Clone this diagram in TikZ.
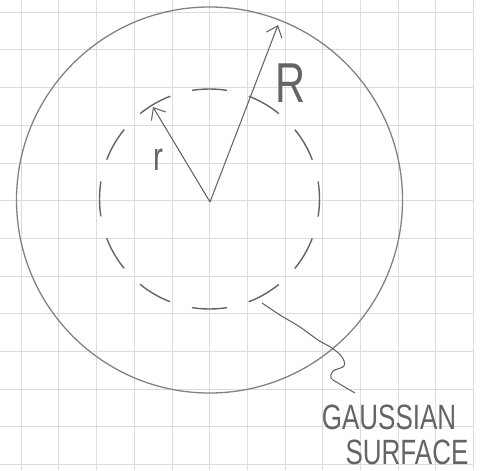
\documentclass[tikz,border=0pt]{standalone}
\usepackage{fontspec}
\setmainfont{Liberation Sans}
\newfontfamily\handfont[FakeStretch=0.74]{Liberation Sans}
\usetikzlibrary{arrows.meta,positioning}
\definecolor{gridgray}{RGB}{220,220,220}
\definecolor{pencil}{RGB}{130,130,130}
\definecolor{pencildark}{RGB}{100,100,100}

\begin{document}
\begin{tikzpicture}[x=0.03cm, y=-0.03cm,
  gridline/.style={draw=gridgray, line width=0.5pt},
  shell/.style={draw=pencil, line width=1.1pt},
  gausscircle/.style={draw=pencildark, line width=1.2pt, dash pattern=on 1.05cm off 0.6776cm, dash phase=0.525cm},
  radiusarrow/.style={draw=pencildark, line width=0.9pt, -{Straight Barb[length=3mm,width=5mm]}},
  pointer/.style={draw=pencildark, line width=0.9pt},
  handtext/.style={text=pencildark, inner sep=0pt, font=\handfont}]
  \fill[white] (0,0) rectangle (489,470);
  \useasboundingbox (0,0) rectangle (489,470);
  % squared paper
  \foreach \i in {0,...,12} {
    \draw[gridline] (21+37.7*\i,0) -- (21+37.7*\i,470);
    \draw[gridline] (0,12+37.7*\i) -- (473.4,12+37.7*\i);
  }
  % sphere and gaussian surface
  \draw[shell] (209.5,200) circle [radius=5.79cm];
  \draw[gausscircle] (209.5,199) circle [radius=3.3cm];
  \coordinate (O) at (210,202);
  \coordinate (rtip) at (153,107);
  \coordinate (Rtip) at (278,25);
  \draw[radiusarrow] (O) -- (rtip);
  \draw[radiusarrow] (O) -- (Rtip);
  \node[handtext, font=\handfont\fontsize{34}{36}\selectfont] (rlabel) at (158,160) {r};
  \node[handtext, font=\handfont\fontsize{48}{50}\selectfont] (Rlabel) at (291,83) {R};
  % label of the dashed circle
  \node[handtext, font=\handfont\fontsize{30}{32}\selectfont] (gauss) at (389,417) {GAUSSIAN};
  \node[handtext, font=\handfont\fontsize{30}{32}\selectfont] (surf) at (407,452) {SURFACE};
  \coordinate (tail) at (262,303);
  \coordinate (tip) at (355,393);
  \draw[pointer] plot[smooth, tension=0.6] coordinates {(tail) (280,315) (300,327) (318,340) (332,348) (342,357) (344,366) (333,371) (331,378) (338,383) (tip)};
\end{tikzpicture}
\end{document}
